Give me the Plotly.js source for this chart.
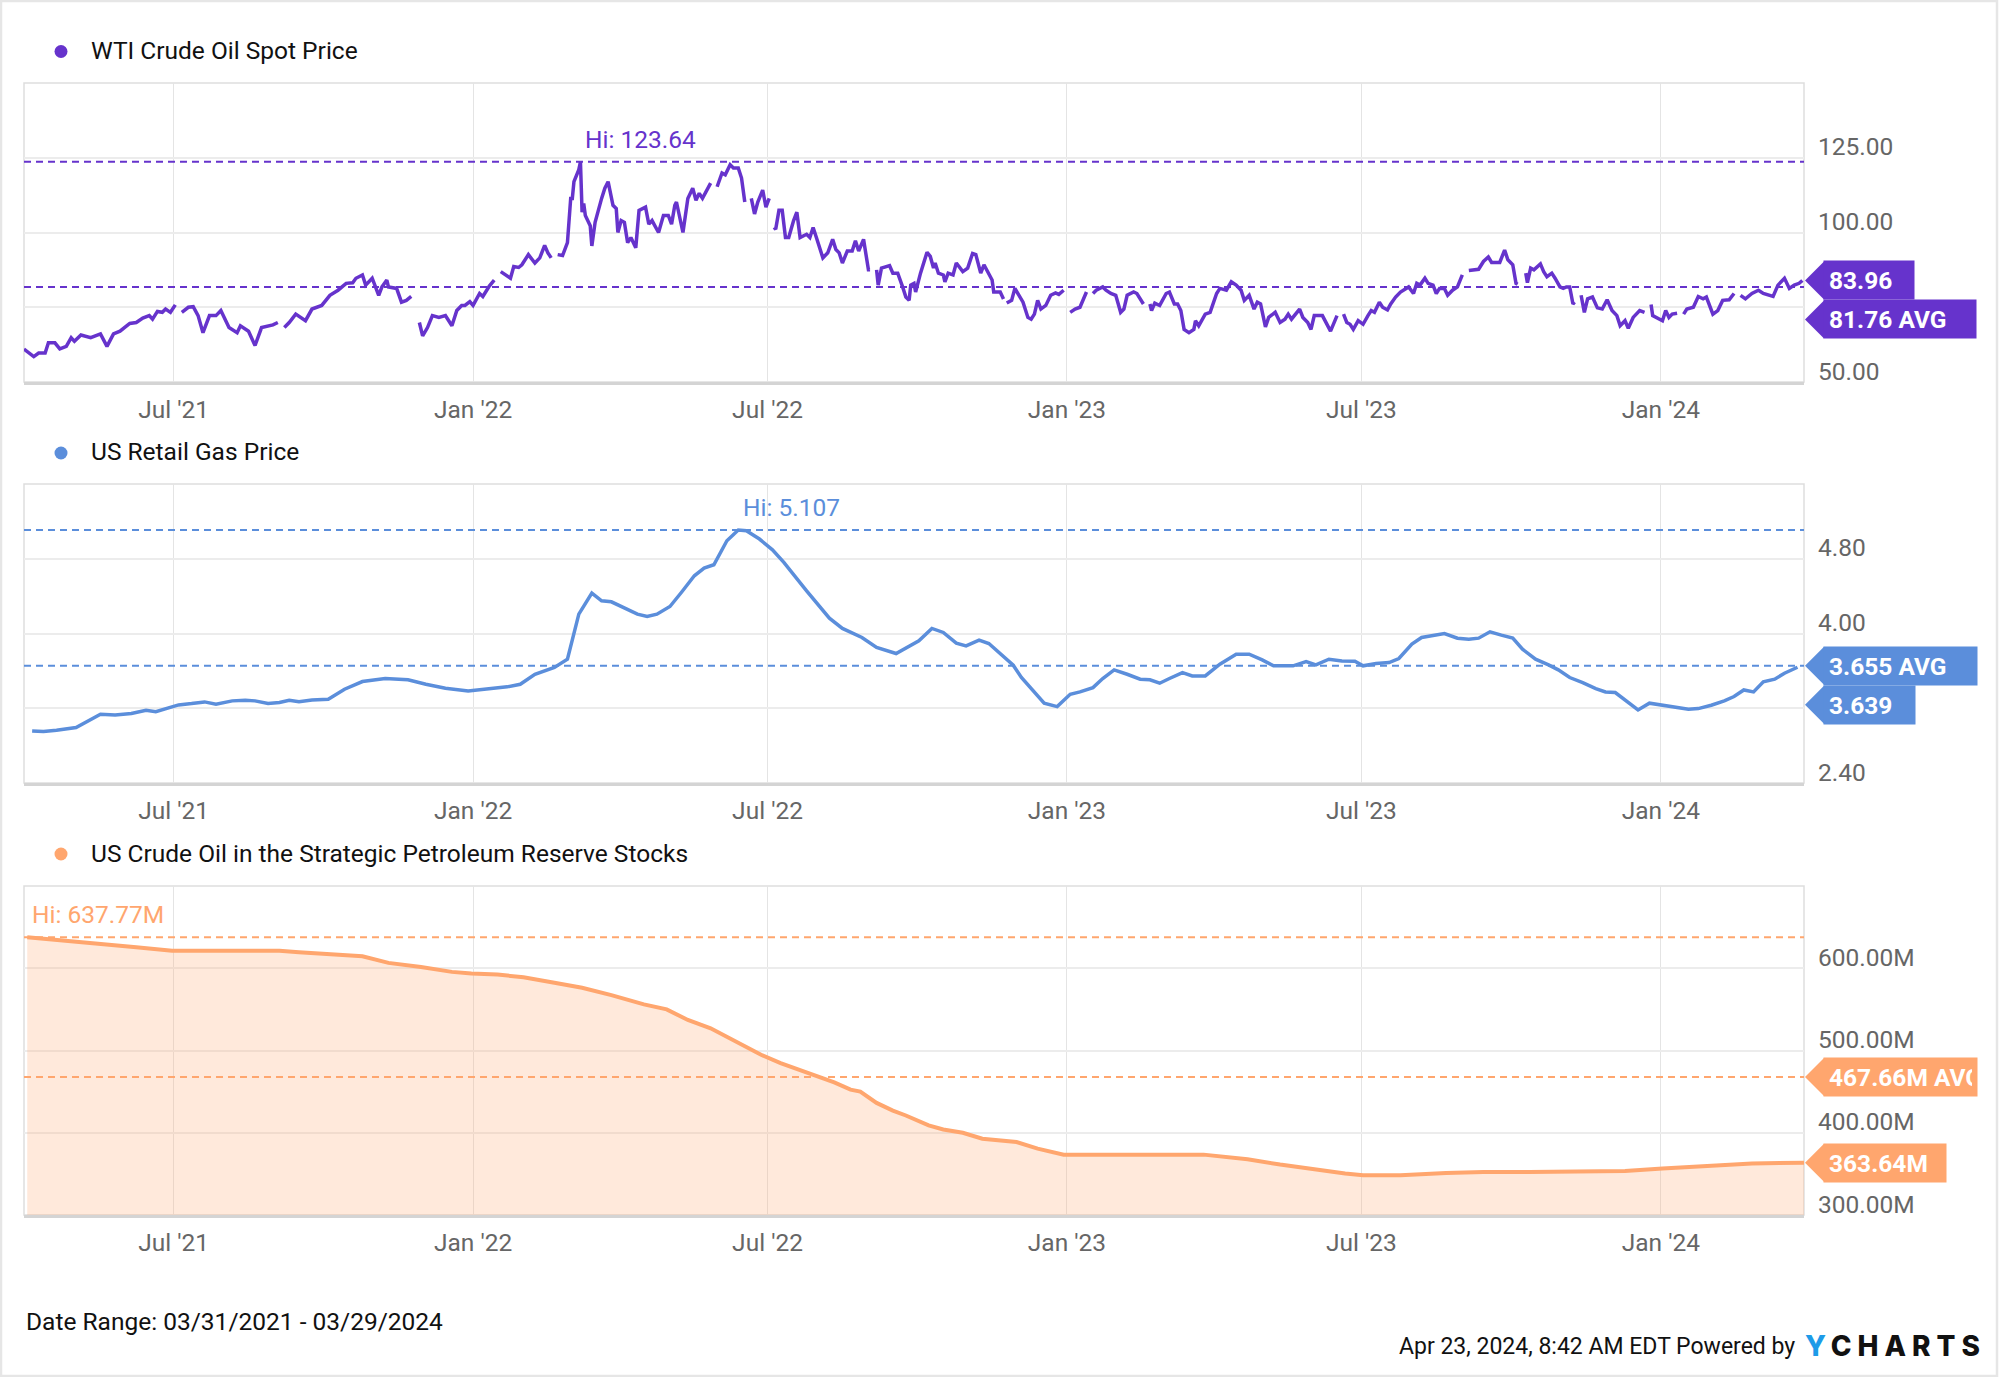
<!DOCTYPE html>
<html>
<head>
<meta charset="utf-8">
<script src="https://cdn.plot.ly/plotly-3.0.1.min.js"></script>
<style>
html,body{margin:0;padding:0;background:#ffffff;}
#chart{width:2000px;height:1377px;}
</style>
</head>
<body>
<div id="chart"></div>
<script>
// ---------------- DATA ----------------
const seriesNames = ['WTI Crude Oil Spot Price', 'US Retail Gas Price', 'US Crude Oil in the Strategic Petroleum Reserve Stocks'];
const dateRange = ['2021-03-31', '2024-03-29'];
const xTickVals = ['2021-07-01', '2022-01-01', '2022-07-01', '2023-01-01', '2023-07-01', '2024-01-01'];
const xTickText = ["Jul '21", "Jan '22", "Jul '22", "Jan '23", "Jul '23", "Jan '24"];

// WTI Crude Oil Spot Price (USD/bbl), null = gap in the series
const wtiDates = [
 '2021-03-31','2021-04-06','2021-04-09','2021-04-13','2021-04-15','2021-04-19','2021-04-22','2021-04-26','2021-04-29',
 '2021-05-01','2021-05-05','2021-05-11','2021-05-17','2021-05-21','2021-05-25','2021-05-29',
 '2021-06-04','2021-06-08','2021-06-12','2021-06-16','2021-06-18','2021-06-21','2021-06-24','2021-06-26','2021-06-29',
 '2021-07-02','2021-07-04','2021-07-06','2021-07-10','2021-07-13','2021-07-16','2021-07-19','2021-07-23','2021-07-27','2021-07-30',
 '2021-08-04','2021-08-09','2021-08-11','2021-08-16','2021-08-20','2021-08-24','2021-08-31',
 '2021-09-03','2021-09-05','2021-09-07','2021-09-10','2021-09-14','2021-09-17','2021-09-20','2021-09-24','2021-09-30',
 '2021-10-05','2021-10-10','2021-10-15','2021-10-19','2021-10-21','2021-10-25','2021-10-27','2021-10-31',
 '2021-11-04','2021-11-06','2021-11-09','2021-11-10','2021-11-15','2021-11-18','2021-11-21','2021-11-24','2021-11-26','2021-11-29',
 '2021-12-01','2021-12-04','2021-12-07','2021-12-11','2021-12-15','2021-12-19','2021-12-22','2021-12-25','2021-12-27','2021-12-30',
 '2022-01-01','2022-01-05','2022-01-07','2022-01-11','2022-01-14','2022-01-16','2022-01-18','2022-01-21','2022-01-24','2022-01-26','2022-01-29','2022-01-31',
 '2022-02-04','2022-02-08','2022-02-11','2022-02-14','2022-02-16','2022-02-18','2022-02-20','2022-02-22','2022-02-25','2022-02-28',
 '2022-03-02','2022-03-03','2022-03-04','2022-03-07','2022-03-08','2022-03-09','2022-03-10','2022-03-11','2022-03-14','2022-03-15','2022-03-17','2022-03-21','2022-03-23','2022-03-25','2022-03-28','2022-03-30','2022-03-31',
 '2022-04-02','2022-04-04','2022-04-06','2022-04-08','2022-04-11','2022-04-13','2022-04-17','2022-04-19','2022-04-21','2022-04-25','2022-04-28',
 '2022-05-01','2022-05-03','2022-05-05','2022-05-06','2022-05-10','2022-05-13','2022-05-16','2022-05-18','2022-05-20','2022-05-22','2022-05-25','2022-05-27','2022-05-29','2022-05-31',
 '2022-06-03','2022-06-05','2022-06-08','2022-06-10','2022-06-13','2022-06-15','2022-06-17','2022-06-19','2022-06-21','2022-06-23','2022-06-25','2022-06-28','2022-06-30',
 '2022-07-02','2022-07-03','2022-07-05','2022-07-06','2022-07-08','2022-07-10','2022-07-12','2022-07-14','2022-07-17','2022-07-19','2022-07-21','2022-07-25','2022-07-27','2022-07-29','2022-07-31',
 '2022-08-04','2022-08-07','2022-08-10','2022-08-12','2022-08-14','2022-08-16','2022-08-19','2022-08-22','2022-08-24','2022-08-26','2022-08-29',
 '2022-09-01','2022-09-02','2022-09-04','2022-09-06','2022-09-07','2022-09-09','2022-09-14','2022-09-16','2022-09-19','2022-09-22','2022-09-24','2022-09-26','2022-09-27','2022-09-29','2022-09-30',
 '2022-10-03','2022-10-04','2022-10-07','2022-10-09','2022-10-11','2022-10-12','2022-10-14','2022-10-17','2022-10-18','2022-10-20','2022-10-23','2022-10-25','2022-10-29',
 '2022-11-01','2022-11-04','2022-11-06','2022-11-09','2022-11-11','2022-11-14','2022-11-16','2022-11-17','2022-11-21','2022-11-23','2022-11-24','2022-11-25','2022-11-28','2022-11-30',
 '2022-12-03','2022-12-05','2022-12-08','2022-12-10','2022-12-12','2022-12-14','2022-12-16','2022-12-19','2022-12-22','2022-12-25','2022-12-27','2022-12-30',
 '2023-01-01','2023-01-03','2023-01-06','2023-01-09','2023-01-13','2023-01-15','2023-01-17','2023-01-19','2023-01-23','2023-01-25','2023-01-28','2023-01-31',
 '2023-02-03','2023-02-05','2023-02-07','2023-02-11','2023-02-13','2023-02-17','2023-02-19','2023-02-21','2023-02-22','2023-02-24','2023-02-27',
 '2023-03-03','2023-03-05','2023-03-08','2023-03-10','2023-03-12','2023-03-14','2023-03-17','2023-03-20','2023-03-21','2023-03-23','2023-03-27','2023-03-30',
 '2023-04-03','2023-04-05','2023-04-09','2023-04-12','2023-04-15','2023-04-18','2023-04-20','2023-04-23','2023-04-26','2023-04-28','2023-04-30',
 '2023-05-03','2023-05-05','2023-05-09','2023-05-12','2023-05-15','2023-05-17','2023-05-19','2023-05-24','2023-05-26','2023-05-29','2023-05-31',
 '2023-06-02','2023-06-07','2023-06-12','2023-06-16','2023-06-18','2023-06-20','2023-06-22','2023-06-24','2023-06-26','2023-06-29',
 '2023-07-02','2023-07-05','2023-07-07','2023-07-09','2023-07-12','2023-07-14','2023-07-17','2023-07-19','2023-07-22','2023-07-25','2023-07-28','2023-07-30',
 '2023-08-02','2023-08-04','2023-08-06','2023-08-09','2023-08-11','2023-08-14','2023-08-16','2023-08-18','2023-08-21','2023-08-23','2023-08-26','2023-08-29',
 '2023-09-01','2023-09-03','2023-09-05','2023-09-08','2023-09-11','2023-09-14','2023-09-17','2023-09-19','2023-09-22','2023-09-24','2023-09-27','2023-09-29',
 '2023-10-02','2023-10-04','2023-10-05','2023-10-07','2023-10-10','2023-10-11','2023-10-13','2023-10-15','2023-10-19','2023-10-21','2023-10-23','2023-10-26','2023-10-28','2023-10-31',
 '2023-11-02','2023-11-04','2023-11-06','2023-11-08','2023-11-09','2023-11-11','2023-11-13','2023-11-15','2023-11-17','2023-11-20','2023-11-23','2023-11-26','2023-11-29',
 '2023-12-02','2023-12-05','2023-12-07','2023-12-10','2023-12-12','2023-12-15','2023-12-19','2023-12-22','2023-12-24','2023-12-26','2023-12-27',
 '2024-01-02','2024-01-04','2024-01-06','2024-01-08','2024-01-11','2024-01-13','2024-01-15','2024-01-17','2024-01-21','2024-01-24','2024-01-27','2024-01-29',
 '2024-02-02','2024-02-05','2024-02-08','2024-02-12','2024-02-15','2024-02-17','2024-02-19','2024-02-22','2024-02-26',
 '2024-03-01','2024-03-04','2024-03-07','2024-03-10','2024-03-13','2024-03-17','2024-03-20','2024-03-23','2024-03-26','2024-03-28'
];
const wtiValues = [
 61.0,58.5,59.7,59.7,63.1,63.1,61.1,61.9,64.8,
 63.6,65.7,64.8,66.1,61.9,66.1,67.0,
 69.6,69.9,71.4,72.2,71.0,73.6,73.3,74.4,73.3,
 75.8,null,73.3,75.0,75.2,72.2,66.5,72.2,72.2,73.9,
 68.2,66.5,68.8,67.0,62.2,68.2,69.1,
 69.9,null,68.2,69.9,72.7,71.6,70.5,74.4,75.6,
 79.0,80.7,83.0,83.2,84.7,85.8,82.4,84.7,
 79.0,81.8,84.1,81.8,81.3,76.7,77.3,78.6,null,69.9,
 65.4,68.2,72.2,71.6,72.2,68.8,73.9,75.6,75.6,76.9,
 75.6,79.6,78.6,82.1,84.1,null,86.9,85.8,84.7,88.6,88.3,89.2,
 92.6,89.8,91.5,95.7,93.2,91.5,null,92.6,92.3,96.6,
 111.4,111.4,117.0,121.0,123.64,106.8,109.7,105.7,102.3,95.5,103.4,111.4,114.8,117.0,109.1,108.0,100.0,
 104.0,103.4,96.6,98.3,94.9,107.4,108.5,102.8,104.0,100.0,105.7,
 105.7,102.8,109.1,110.2,100.0,111.4,114.8,110.8,113.1,111.4,114.8,116.5,null,115.3,
 119.9,119.3,122.7,121.6,121.6,118.2,110.2,null,111.4,106.2,110.2,114.2,108.5,
 111.4,null,101.7,101.1,107.4,107.4,98.3,98.3,104.0,106.8,98.3,99.4,98.3,101.7,98.3,
 91.5,93.2,97.7,94.3,93.2,89.8,93.8,93.8,97.2,93.8,97.7,
 87.5,87.5,null,87.5,82.4,88.1,88.9,86.4,86.4,81.8,78.4,77.3,82.4,83.0,80.1,
 86.4,88.1,93.4,92.0,88.1,89.8,86.4,85.8,83.5,86.4,85.8,89.8,86.9,
 88.1,93.0,92.6,86.4,89.2,85.8,84.1,80.1,80.1,77.8,null,76.4,77.3,81.3,
 78.4,76.7,71.6,71.0,72.7,77.3,74.4,75.6,79.0,79.8,79.3,80.7,
 null,73.3,74.4,75.0,80.1,null,79.6,80.7,81.8,80.7,79.6,79.0,
 73.3,74.4,79.0,80.1,79.6,76.1,null,76.1,73.9,76.4,75.6,
 79.6,80.1,76.1,76.1,73.9,67.6,66.5,67.6,70.5,68.8,72.7,73.3,
 79.6,81.3,80.7,83.5,82.4,80.7,77.3,79.0,74.4,76.7,76.1,
 68.4,71.6,73.3,69.9,71.0,72.7,71.0,74.4,71.6,69.9,67.6,
 72.2,72.2,67.0,72.2,null,72.7,69.9,69.3,67.6,70.5,
 69.3,72.2,73.9,73.3,76.7,75.0,74.1,76.1,78.4,80.1,81.3,81.8,
 79.6,83.0,82.4,84.7,83.0,82.4,79.6,81.3,81.3,79.0,80.7,81.8,
 85.8,null,87.3,87.5,87.7,90.3,91.8,90.0,90.0,90.0,94.1,90.9,
 89.2,83.0,82.7,null,86.4,83.2,88.1,87.5,89.5,86.9,85.2,86.4,84.7,81.8,
 81.3,81.8,81.8,76.1,76.7,null,79.0,73.3,77.8,78.4,74.8,74.4,77.5,
 73.9,72.2,68.8,70.5,68.0,71.6,73.9,73.3,null,75.9,72.2,
 70.5,73.9,71.6,72.7,73.0,null,72.7,74.4,75.0,78.6,77.8,78.4,
 72.7,73.9,77.3,77.5,79.6,null,79.0,77.8,79.6,
 80.7,79.6,79.0,78.6,82.4,84.7,81.3,82.4,83.0,83.96
];
const wtiAvg = 81.76;

// US Retail Gas Price (USD/gal), weekly
const gasDates = [
 '2021-04-05','2021-04-12','2021-04-20','2021-05-02','2021-05-17','2021-05-26','2021-06-05','2021-06-14','2021-06-20',
 '2021-07-04','2021-07-12','2021-07-20','2021-07-27','2021-08-06','2021-08-14','2021-08-20','2021-08-28',
 '2021-09-04','2021-09-10','2021-09-16','2021-09-24','2021-10-04','2021-10-14','2021-10-25','2021-11-08','2021-11-22',
 '2021-12-03','2021-12-15','2021-12-29',
 '2022-01-08','2022-01-22','2022-01-30','2022-02-08','2022-02-20','2022-02-28','2022-03-07','2022-03-15','2022-03-21','2022-03-27',
 '2022-04-12','2022-04-18','2022-04-24','2022-05-02','2022-05-09','2022-05-17','2022-05-23','2022-05-29',
 '2022-06-06','2022-06-13','2022-06-18','2022-06-26','2022-07-04','2022-07-11','2022-07-25','2022-08-08','2022-08-16','2022-08-28',
 '2022-09-06','2022-09-18','2022-10-02','2022-10-10','2022-10-17','2022-10-25','2022-10-31',
 '2022-11-08','2022-11-14','2022-11-21','2022-11-29','2022-12-04','2022-12-12','2022-12-18','2022-12-26',
 '2023-01-03','2023-01-09','2023-01-17','2023-01-23','2023-01-30','2023-02-07','2023-02-15','2023-02-21','2023-02-27',
 '2023-03-05','2023-03-13','2023-03-19','2023-03-27','2023-04-05','2023-04-15','2023-04-23',
 '2023-05-01','2023-05-08','2023-05-20','2023-05-28','2023-06-03','2023-06-11','2023-06-19','2023-06-27',
 '2023-07-02','2023-07-10','2023-07-18','2023-07-24','2023-08-01','2023-08-07','2023-08-15','2023-08-21','2023-08-29',
 '2023-09-05','2023-09-11','2023-09-18','2023-09-25','2023-10-02','2023-10-08','2023-10-16','2023-10-24','2023-10-30',
 '2023-11-06','2023-11-14','2023-11-22','2023-11-28','2023-12-04','2023-12-12','2023-12-18','2023-12-25',
 '2024-01-02','2024-01-10','2024-01-18','2024-01-24','2024-02-01','2024-02-09','2024-02-15','2024-02-21','2024-02-27',
 '2024-03-04','2024-03-11','2024-03-17','2024-03-25'
];
const gasValues = [
 2.957,2.950,2.964,2.993,3.136,3.129,3.143,3.179,3.164,
 3.236,3.250,3.268,3.243,3.279,3.286,3.279,3.250,
 3.261,3.286,3.271,3.289,3.296,3.404,3.486,3.518,3.504,
 3.457,3.414,3.386,
 3.404,3.429,3.457,3.564,3.636,3.725,4.207,4.432,4.350,4.339,
 4.207,4.182,4.207,4.289,4.439,4.618,4.700,4.736,
 4.993,5.107,5.100,5.011,4.896,4.761,4.457,4.164,4.054,3.957,
 3.850,3.786,3.921,4.054,4.011,3.896,3.868,
 3.929,3.893,3.780,3.661,3.529,3.368,3.254,3.218,
 3.350,3.375,3.421,3.518,3.611,3.564,3.511,3.504,3.468,
 3.518,3.582,3.546,3.546,3.671,3.779,3.779,
 3.718,3.654,3.654,3.700,3.664,3.725,3.707,3.704,
 3.654,3.679,3.689,3.732,3.886,3.957,3.982,4.000,3.950,
 3.939,3.950,4.018,3.982,3.950,3.832,3.725,3.664,3.611,
 3.529,3.475,3.411,3.375,3.368,3.261,3.182,3.254,
 3.232,3.214,3.189,3.196,3.232,3.279,3.325,3.396,3.375,
 3.482,3.511,3.575,3.639
];
const gasAvg = 3.655;

// US Crude Oil in the Strategic Petroleum Reserve Stocks (millions of barrels)
const sprDates = [
 '2021-04-02','2021-05-02','2021-05-20','2021-06-08','2021-06-30','2021-07-31','2021-09-04','2021-09-16','2021-10-06','2021-10-25','2021-11-10','2021-11-30','2021-12-19','2021-12-31',
 '2022-01-16','2022-02-01','2022-02-20','2022-03-09','2022-03-27','2022-04-16','2022-04-30','2022-05-13','2022-05-27','2022-06-12','2022-06-27','2022-07-09','2022-07-27','2022-08-11','2022-08-21','2022-08-27','2022-09-06','2022-09-16','2022-09-24','2022-10-08','2022-10-17','2022-10-29','2022-11-10','2022-11-21','2022-12-01','2022-12-14','2022-12-30',
 '2023-03-26','2023-04-22','2023-05-12','2023-06-01','2023-06-21','2023-07-02','2023-07-25','2023-08-22','2023-09-14','2023-10-12','2023-12-10',
 '2024-01-02','2024-01-26','2024-02-26','2024-03-29'
];
const sprValues = [
 637.77,632.7,628.6,625.4,621.4,621.4,621.4,619.4,617.3,614.5,606.5,601.6,595.6,593.5,
 592.3,589.1,582.3,576.2,567.3,556.1,550.0,537.1,527.0,509.7,494.8,484.7,471.4,461.3,452.4,450.0,436.3,427.0,421.0,408.9,404.0,400.0,392.8,391.0,388.7,380.7,373.4,
 373.4,367.8,361.3,355.3,350.4,348.4,348.4,351.2,352.4,352.4,353.6,
 356.4,359.3,362.5,363.64
];
const sprAvg = 467.66;

// y-axis ticks
const wtiTicks = [50, 75, 100, 125];
const wtiTickText = ['50.00', '', '100.00', '125.00'];
const gasTicks = [2.4, 3.2, 4.0, 4.8];
const gasTickText = ['2.40', '', '4.00', '4.80'];
const sprTicks = [300, 400, 500, 600];
const sprTickText = ['300.00M', '400.00M', '500.00M', '600.00M'];

const footerLeft = 'Date Range: 03/31/2021 - 03/29/2024';
const footerRight = 'Apr 23, 2024, 8:42 AM EDT Powered by';

// ---------------- RENDER ----------------
const FONT = 'Roboto, "Noto Sans", sans-serif';
const TICK_COLOR = '#666666';
const FW = 2000, FH = 1377;
const px = x => x / FW;
const py = y => 1 - y / FH;
const PLOT_L = 24, PLOT_R = 1804;
const TIP = 1805, BODY = 1823, BADGE_H = 38;

function lastValid(arr) { for (let i = arr.length - 1; i >= 0; i--) if (arr[i] != null) return arr[i]; return null; }
function argMax(arr) { let b = -1; arr.forEach((v, i) => { if (v != null && (b < 0 || v > arr[b])) b = i; }); return b; }

const panels = [
  { name: seriesNames[0], dates: wtiDates, values: wtiValues, avg: wtiAvg, color: '#6633CC',
    top: 83, bottom: 382, range: [50, 150], tv: wtiTicks, tt: wtiTickText,
    fmt: v => v.toFixed(2), headerY: 50.5, fill: false, lw: 3.5,
    badges: p => [
      { text: p.fmt(p.last), anchor: p.last, shift: 0, right: 1913 },
      { text: p.fmt(p.avg) + ' AVG', anchor: p.last, shift: -39, right: 1975 }
    ] },
  { name: seriesNames[1], dates: gasDates, values: gasValues, avg: gasAvg, color: '#5B8EDB',
    top: 484, bottom: 783, range: [2.4, 5.6], tv: gasTicks, tt: gasTickText,
    fmt: v => v.toFixed(3), headerY: 452, fill: false, lw: 3.5,
    badges: p => [
      { text: p.fmt(p.avg) + ' AVG', anchor: p.avg, shift: 0, right: 1976 },
      { text: p.fmt(p.last), anchor: p.avg, shift: -39, right: 1914 }
    ] },
  { name: seriesNames[2], dates: sprDates, values: sprValues, avg: sprAvg, color: '#FFA66E',
    top: 886, bottom: 1215, range: [300, 700], tv: sprTicks, tt: sprTickText,
    fmt: v => v.toFixed(2) + 'M', headerY: 853, fill: true, lw: 4,
    badges: p => [
      { text: p.fmt(p.avg) + ' AVG', anchor: p.avg, shift: 0, right: 1976 },
      { text: p.fmt(p.last), anchor: p.last, shift: 0, right: 1945 }
    ] }
];

const data = [];
const layout = {
  width: FW, height: FH,
  margin: { l: 0, r: 0, t: 0, b: 0 },
  paper_bgcolor: '#ffffff', plot_bgcolor: '#ffffff',
  showlegend: false,
  font: { family: FONT, size: 24.5, color: '#000000' },
  shapes: [], annotations: []
};

panels.forEach((p, i) => {
  const n = i === 0 ? '' : String(i + 1);
  const xa = 'x' + n, ya = 'y' + n;
  p.last = lastValid(p.values);
  const hiIdx = argMax(p.values);
  const hi = p.values[hiIdx];

  data.push({
    type: 'scatter', mode: 'lines', x: p.dates, y: p.values, xaxis: xa, yaxis: ya,
    line: { color: p.color, width: p.lw, shape: 'linear' }, connectgaps: false,
    fill: p.fill ? 'tozeroy' : 'none', fillcolor: 'rgba(255,166,110,0.25)', hoverinfo: 'skip'
  });

  layout['xaxis' + n] = {
    domain: [px(PLOT_L), px(PLOT_R)], anchor: ya, type: 'date', range: dateRange,
    tickmode: 'array', tickvals: xTickVals, ticktext: xTickText,
    tickfont: { family: FONT, size: 24.5, color: TICK_COLOR },
    showgrid: true, gridcolor: '#e4e4e4', gridwidth: 1, zeroline: false,
    showline: true, linecolor: '#d4d4d4', linewidth: 2.5, ticks: '', ticklabelstandoff: 4, fixedrange: true
  };
  layout['yaxis' + n] = {
    domain: [py(p.bottom), py(p.top)], anchor: xa, side: 'right', range: p.range,
    tickmode: 'array', tickvals: p.tv, ticktext: p.tt,
    tickfont: { family: FONT, size: 24.5, color: TICK_COLOR },
    showgrid: true, gridcolor: '#ececec', gridwidth: 2, zeroline: false, showline: false,
    ticks: '', ticklabelstandoff: 13, ticklabelshift: -11, fixedrange: true
  };

  // plot frame
  layout.shapes.push({ type: 'rect', xref: xa + ' domain', yref: ya + ' domain', x0: 0, x1: 1, y0: 0, y1: 1,
    line: { color: '#dedede', width: 1.5 }, layer: 'below' });
  // Hi and AVG dashed lines
  [hi, p.avg].forEach(v => layout.shapes.push({
    type: 'line', xref: xa + ' domain', yref: ya, x0: 0, x1: 1, y0: v, y1: v,
    line: { color: p.color, width: 2, dash: '7px,5px' }, layer: 'above'
  }));
  // header dot
  layout.shapes.push({ type: 'circle', xref: 'paper', yref: 'paper',
    x0: px(54.5), x1: px(67.5), y0: py(p.headerY + 7.5), y1: py(p.headerY - 5.5),
    fillcolor: p.color, line: { width: 0 } });
  // header text
  layout.annotations.push({ xref: 'paper', yref: 'paper', x: px(89), y: py(p.headerY),
    xanchor: 'left', yanchor: 'middle', showarrow: false, text: p.name,
    font: { family: FONT, size: 24.5, color: '#111111' } });
  // Hi label
  layout.annotations.push({ xref: xa, yref: ya, x: p.dates[hiIdx], y: hi, xanchor: 'left', yanchor: 'bottom',
    xshift: 3, yshift: 6, showarrow: false, text: 'Hi: ' + p.fmt(hi),
    font: { family: FONT, size: 24.5, color: p.color } });
  // badges
  p.badges(p).forEach(b => {
    layout.shapes.push({ type: 'path', xref: 'paper', yref: ya, ysizemode: 'pixel', yanchor: b.anchor,
      path: `M ${px(TIP)},${b.shift} L ${px(BODY + 1)},${b.shift + BADGE_H / 2} L ${px(BODY + 1)},${b.shift - BADGE_H / 2} Z`,
      fillcolor: p.color, line: { width: 0 }, layer: 'above' });
    layout.annotations.push({ xref: 'paper', yref: ya, x: px(BODY), y: b.anchor, xanchor: 'left', yanchor: 'middle',
      yshift: b.shift, showarrow: false, text: b.text, align: 'left', valign: 'middle',
      width: b.right - BODY - 10, height: BADGE_H - 10, borderpad: 5, bgcolor: p.color,
      font: { family: FONT, size: 24.5, color: '#ffffff', weight: 700 } });
  });
});

// whole-figure border
layout.shapes.push({ type: 'rect', xref: 'paper', yref: 'paper', x0: px(1), x1: px(1997), y0: py(1376), y1: py(1),
  line: { color: '#e6e6e6', width: 2.5 } });

// footer
layout.annotations.push({ xref: 'paper', yref: 'paper', x: px(24), y: py(1321), xanchor: 'left', yanchor: 'middle',
  showarrow: false, text: footerLeft, font: { family: FONT, size: 24.5, color: '#111111' } });
layout.annotations.push({ xref: 'paper', yref: 'paper', x: px(1797), y: py(1346), xanchor: 'right', yanchor: 'middle',
  showarrow: false, text: footerRight, font: { family: FONT, size: 23, color: '#111111' } });
layout.annotations.push({ xref: 'paper', yref: 'paper', x: px(1803), y: py(1346), xanchor: 'left', yanchor: 'middle',
  showarrow: false,
  text: '<span style="color:#1E9BE8;letter-spacing:6px">Y</span><span style="letter-spacing:6px">CHARTS</span>',
  font: { family: 'Inter, "DejaVu Sans", sans-serif', size: 28, color: '#111111', weight: 800 } });

Plotly.newPlot('chart', data, layout, { staticPlot: true, displayModeBar: false });
</script>
</body>
</html>
